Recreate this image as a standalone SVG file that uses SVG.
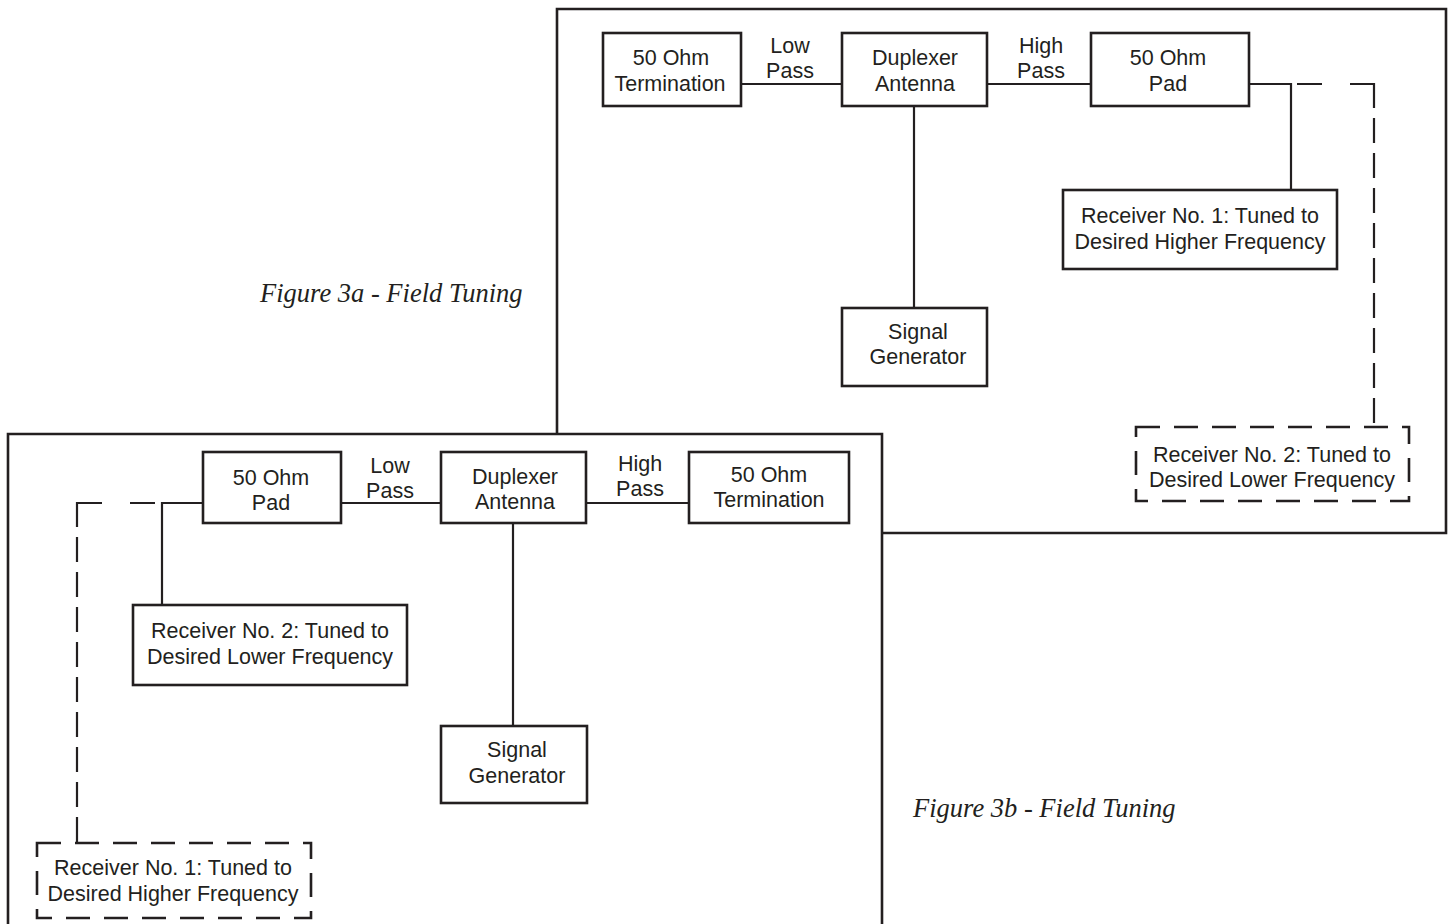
<svg xmlns="http://www.w3.org/2000/svg" width="1448" height="924" viewBox="0 0 1448 924">
<style>
.frame{fill:none;stroke:#231f20;stroke-width:2.6}
.box{fill:#fff;stroke:#231f20;stroke-width:2.6}
.dbox{fill:#fff;stroke:#231f20;stroke-width:2.6;stroke-dasharray:24 14}
.ln{fill:none;stroke:#231f20;stroke-width:2.2}
.dv{fill:none;stroke:#231f20;stroke-width:2.2;stroke-dasharray:25 10}
text{font-family:"Liberation Sans",Arial,sans-serif;font-size:21.5px;fill:#231f20;text-anchor:middle}
.cap{font-family:"Liberation Serif","Times New Roman",serif;font-style:italic;font-size:26.5px;text-anchor:start}
</style>
<rect width="1448" height="924" fill="#fff"/>
<g id="frames">
<path class="frame" d="M557,434 V9 H1446 V533 H882"/>
<path class="frame" d="M8,924 V434 H882 V924"/>
</g>
<g id="connectors">
<line class="ln" x1="741" y1="84" x2="842" y2="84"/>
<line class="ln" x1="987" y1="84" x2="1091" y2="84"/>
<polyline class="ln" points="1249,84 1291,84 1291,190"/>
<line class="ln" x1="914" y1="106" x2="914" y2="308"/>
<path class="ln" d="M1297,84 H1322 M1350,84 H1375"/>
<path class="dv" d="M1374,83 V427"/>
<line class="ln" x1="341" y1="503" x2="441" y2="503"/>
<line class="ln" x1="586" y1="503" x2="689" y2="503"/>
<polyline class="ln" points="203,503 162,503 162,605"/>
<line class="ln" x1="513" y1="523" x2="513" y2="726"/>
<path class="ln" d="M155,503 H130 M102,503 H76"/>
<path class="dv" d="M77,502 V843"/>
</g>
<g id="n-term-a"><rect class="box" x="603" y="33" width="138" height="73"/><text x="671" y="65">50 Ohm</text><text x="670" y="91">Termination</text></g>
<g id="lbl-low-a"><text x="790" y="53">Low</text><text x="790" y="78">Pass</text></g>
<g id="n-dup-a"><rect class="box" x="842" y="33" width="145" height="73"/><text x="915" y="65">Duplexer</text><text x="915" y="91">Antenna</text></g>
<g id="lbl-high-a"><text x="1041" y="53">High</text><text x="1041" y="78">Pass</text></g>
<g id="n-pad-a"><rect class="box" x="1091" y="33" width="158" height="73"/><text x="1168" y="65">50 Ohm</text><text x="1168" y="91">Pad</text></g>
<g id="n-rx1-a"><rect class="box" x="1063" y="190" width="274" height="79"/><text x="1200" y="223">Receiver No. 1: Tuned to</text><text x="1200" y="249">Desired Higher Frequency</text></g>
<g id="n-sig-a"><rect class="box" x="842" y="308" width="145" height="78"/><text x="918" y="339">Signal</text><text x="918" y="364">Generator</text></g>
<g id="n-rx2-a"><rect class="dbox" x="1136" y="427" width="273" height="74"/><text x="1272" y="462">Receiver No. 2: Tuned to</text><text x="1272" y="487">Desired Lower Frequency</text></g>
<g id="n-pad-b"><rect class="box" x="203" y="452" width="138" height="71"/><text x="271" y="485">50 Ohm</text><text x="271" y="510">Pad</text></g>
<g id="lbl-low-b"><text x="390" y="473">Low</text><text x="390" y="498">Pass</text></g>
<g id="n-dup-b"><rect class="box" x="441" y="452" width="145" height="71"/><text x="515" y="484">Duplexer</text><text x="515" y="509">Antenna</text></g>
<g id="lbl-high-b"><text x="640" y="471">High</text><text x="640" y="496">Pass</text></g>
<g id="n-term-b"><rect class="box" x="689" y="452" width="160" height="71"/><text x="769" y="482">50 Ohm</text><text x="769" y="507">Termination</text></g>
<g id="n-rx2-b"><rect class="box" x="133" y="605" width="274" height="80"/><text x="270" y="638">Receiver No. 2: Tuned to</text><text x="270" y="664">Desired Lower Frequency</text></g>
<g id="n-sig-b"><rect class="box" x="441" y="726" width="146" height="77"/><text x="517" y="757">Signal</text><text x="517" y="783">Generator</text></g>
<g id="n-rx1-b"><rect class="dbox" x="37" y="843" width="274" height="75"/><text x="173" y="875">Receiver No. 1: Tuned to</text><text x="173" y="901">Desired Higher Frequency</text></g>
<g id="captions">
<text class="cap" x="260" y="302">Figure 3a - Field Tuning</text>
<text class="cap" x="913" y="817">Figure 3b - Field Tuning</text>
</g>
</svg>
